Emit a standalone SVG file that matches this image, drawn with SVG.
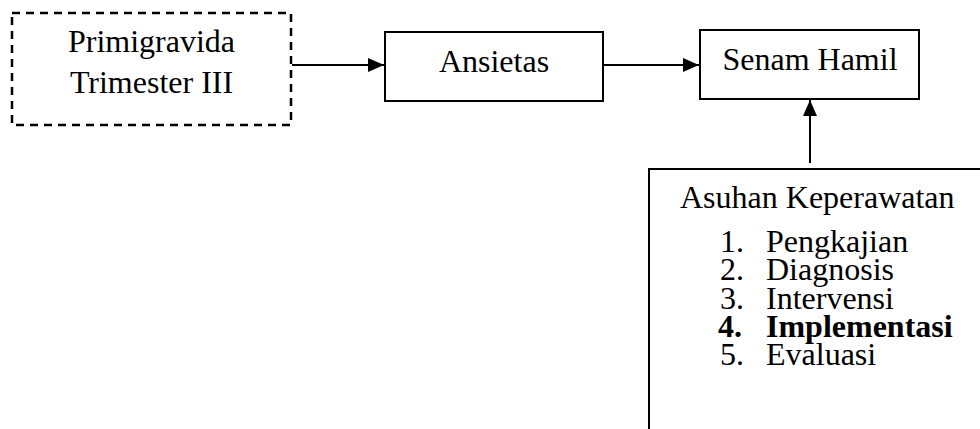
<svg xmlns="http://www.w3.org/2000/svg" width="980" height="429" viewBox="0 0 980 429">
<style>
.box{fill:#fff;stroke:#000;stroke-width:2}
.dash{fill:#fff;stroke:#000;stroke-width:2.5;stroke-dasharray:8 6}
.t{font-family:"Liberation Serif","Times New Roman",serif;font-size:32px;fill:#000}
.c{text-anchor:middle}
.b{font-weight:bold}
.ln{stroke:#000;stroke-width:2;fill:none}
</style>
<defs>
<marker id="ah" viewBox="0 0 16 14" refX="16" refY="7" markerWidth="16" markerHeight="14" markerUnits="userSpaceOnUse" orient="auto">
<path d="M0,0 L16,7 L0,14 Z" fill="#000"/>
</marker>
</defs>
<rect width="980" height="429" fill="#fff"/>
<g id="primigravida">
<rect class="dash" x="12" y="13" width="279" height="112"/>
<text class="t c" x="151.5" y="52">Primigravida</text>
<text class="t c" x="151.5" y="93">Trimester III</text>
</g>
<g id="ansietas">
<rect class="box" x="385" y="32" width="218" height="69"/>
<text class="t c" x="494" y="72">Ansietas</text>
</g>
<g id="senam-hamil">
<rect class="box" x="700" y="30" width="219" height="69"/>
<text class="t c" x="810" y="70">Senam Hamil</text>
</g>
<g id="asuhan-keperawatan">
<rect class="box" x="649" y="169" width="400" height="300"/>
<text class="t" x="680" y="208">Asuhan Keperawatan</text>
<text class="t" x="720" y="252">1.</text><text class="t" x="766" y="252">Pengkajian</text>
<text class="t" x="720" y="280">2.</text><text class="t" x="766" y="280">Diagnosis</text>
<text class="t" x="720" y="309">3.</text><text class="t" x="766" y="309">Intervensi</text>
<text class="t b" x="718" y="337">4.</text><text class="t b" x="766" y="337">Implementasi</text>
<text class="t" x="720" y="365">5.</text><text class="t" x="766" y="365">Evaluasi</text>
</g>
<g id="connectors">
<line class="ln" x1="292" y1="65" x2="384" y2="65" marker-end="url(#ah)"/>
<line class="ln" x1="603" y1="65" x2="699" y2="65" marker-end="url(#ah)"/>
<line class="ln" x1="810" y1="163" x2="810" y2="100" marker-end="url(#ah)"/>
</g>
</svg>
